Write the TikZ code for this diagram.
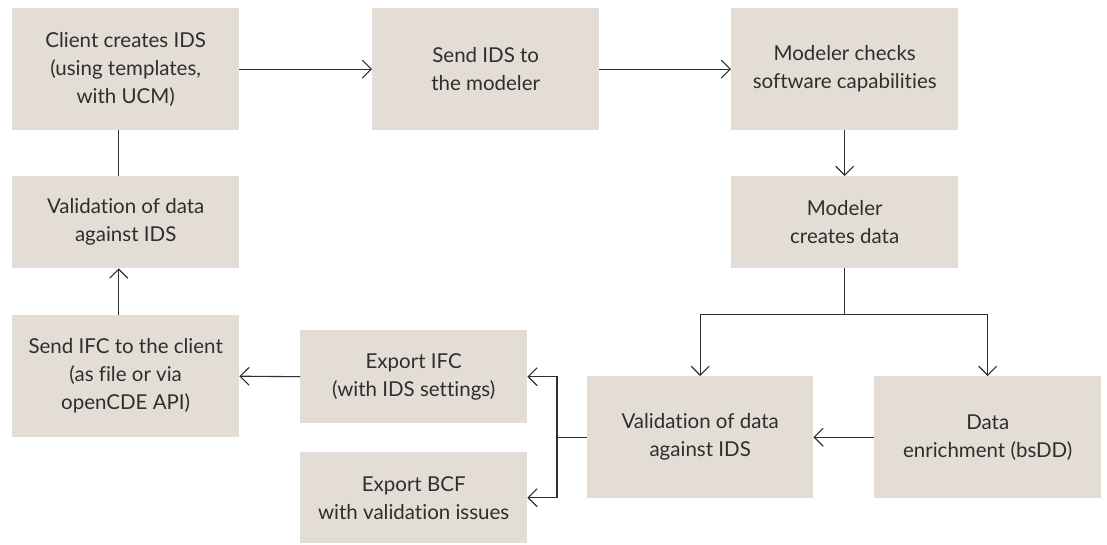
\documentclass[tikz,border=0pt]{standalone}
\usepackage{fontspec}
\setmainfont{Lato}[Ligatures={NoCommon}]
\usetikzlibrary{arrows.meta,calc}
\definecolor{boxfill}{HTML}{E3DDD6}
\definecolor{ink}{HTML}{2E2E2E}
\tikzset{
  stepbox/.style={fill=boxfill, draw=none, anchor=north west, align=center,
    text=ink, inner sep=0pt, minimum width=227pt,
    font=\fontsize{20.5}{28}\selectfont},
  flow/.style={draw=ink, line width=1.1pt, -{Straight Barb[length=9pt,width=18pt,line width=1.1pt]}},
  plain/.style={draw=ink, line width=1.1pt}
}
\begin{document}
\begin{tikzpicture}[x=1pt,y=-1pt]
\useasboundingbox (0,0) rectangle (1107,545);
% process steps
\node[stepbox, minimum height=122pt] (create) at (12,8) {Client creates IDS\\(using templates,\\with UCM)};
\node[stepbox, minimum height=122pt] (send) at (372,8) {Send IDS to\\the modeler};
\node[stepbox, minimum height=122pt] (check) at (731,8) {Modeler checks\\software capabilities};
\node[stepbox, minimum height=92pt] (model) at (731,176) {Modeler\\creates data};
\node[stepbox, minimum height=92pt] (valclient) at (12,176) {Validation of data\\against IDS};
\node[stepbox, minimum height=122pt] (sendifc) at (12,315) {Send IFC to the client\\(as file or via\\openCDE API)};
\node[stepbox, minimum height=93pt] (expifc) at (300,330) {Export IFC\\(with IDS settings)};
\node[stepbox, minimum height=91pt] (expbcf) at (300,452) {Export BCF\\with validation issues};
\node[stepbox, minimum height=122pt, minimum width=226pt] (valmod) at (587,376) {Validation of data\\against IDS};
\node[stepbox, minimum height=122pt] (enrich) at (874,376) {Data\\enrichment (bsDD)};
% junction points
\coordinate (split) at ($(model.south)+(0,46)$);
\coordinate (merge) at ($(valmod.west)+(-30,0)$);
% connectors
\draw[flow] (create.east) -- (send.west);
\draw[flow] (send.east) -- (check.west);
\draw[flow] (check.south) -- (model.north);
\draw[plain] ($(create.south)+(-7,0)$) -- ($(valclient.north)+(-7,0)$);
\draw[flow] ($(sendifc.north)+(-7,0)$) -- ($(valclient.south)+(-7,0)$);
\draw[plain] (model.south) -- (split);
\draw[flow] (split) -| (valmod.north);
\draw[flow] (split) -| (enrich.north);
\draw[flow] (enrich.west) -- (valmod.east);
\draw[plain] (valmod.west) -- (merge);
\draw[flow] (merge) |- (expifc.east);
\draw[flow] (merge) |- (expbcf.east);
\draw[flow] (expifc.west) -- (sendifc.east);
\end{tikzpicture}
\end{document}
